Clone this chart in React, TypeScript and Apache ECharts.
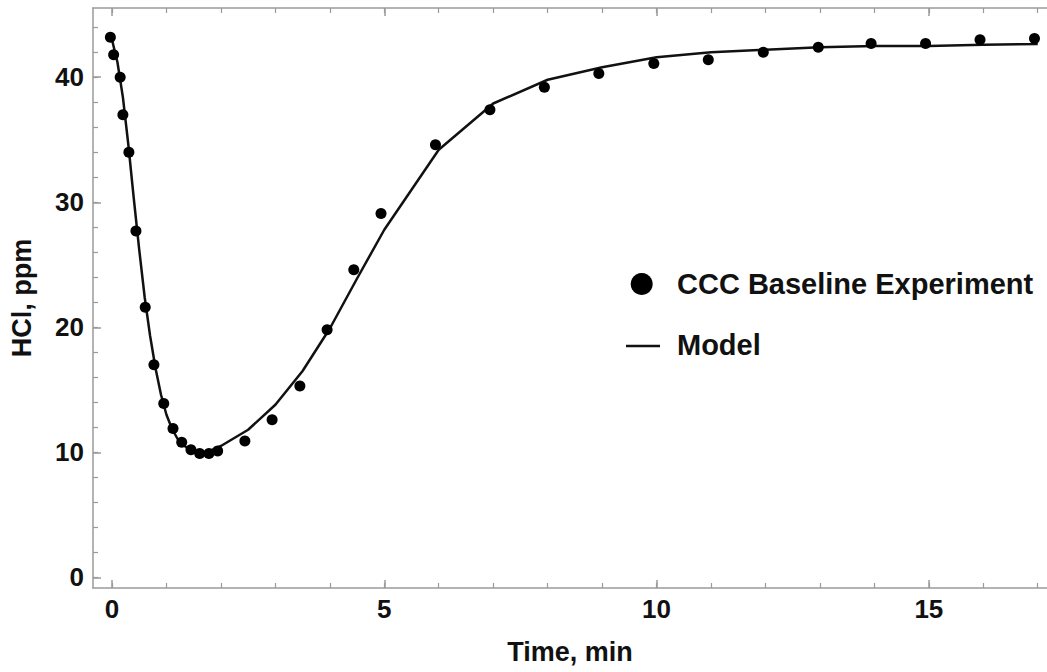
import React, { useEffect, useRef } from "react";
import * as echarts from "echarts";

// Experimental data (time in min, HCl in ppm)
const expTime = [-0.03, 0.03, 0.15, 0.2, 0.31, 0.44, 0.61, 0.77, 0.95, 1.12, 1.28, 1.45, 1.61, 1.78, 1.94, 2.44, 2.94, 3.45, 3.95, 4.44, 4.94, 5.94, 6.94, 7.94, 8.94, 9.95, 10.95, 11.96, 12.97, 13.94, 14.94, 15.94, 16.94];
const expHCl = [43.2, 41.8, 40.0, 37.0, 34.0, 27.7, 21.6, 17.0, 13.9, 11.9, 10.8, 10.2, 9.9, 9.9, 10.1, 10.9, 12.6, 15.3, 19.8, 24.6, 29.1, 34.6, 37.4, 39.2, 40.3, 41.1, 41.4, 42.0, 42.4, 42.7, 42.7, 43.0, 43.1];

// Model curve
const modelTime = [0, 0.1, 0.2, 0.3, 0.4, 0.5, 0.6, 0.7, 0.8, 0.9, 1.0, 1.1, 1.2, 1.3, 1.4, 1.5, 1.6, 1.7, 1.8, 2.0, 2.5, 3, 3.5, 4, 4.5, 5, 6, 7, 8, 9, 10, 11, 12, 13, 14, 15, 16, 17];
const modelHCl = [43.0, 41.2, 38.4, 34.6, 30.3, 26.2, 22.4, 19.3, 16.7, 14.6, 13.0, 11.9, 11.1, 10.6, 10.3, 10.1, 10.0, 10.0, 10.1, 10.5, 11.8, 13.8, 16.5, 19.9, 23.9, 27.8, 34.2, 37.9, 39.8, 40.8, 41.6, 42.0, 42.2, 42.4, 42.5, 42.5, 42.6, 42.65];

// Ticks
const xMajorTicks = [0, 5, 10, 15];
const xMinorTicks = [0, 1, 2, 3, 4, 5, 6, 7, 8, 9, 10, 11, 12, 13, 14, 15, 16, 17];
const yMajorTicks = [0, 10, 20, 30, 40];
const yMinorTicks = [0, 2, 4, 6, 8, 10, 12, 14, 16, 18, 20, 22, 24, 26, 28, 30, 32, 34, 36, 38, 40, 42, 44];

const expName = "CCC Baseline Experiment";
const modelName = "Model";
const xTitle = "Time, min";
const yTitle = "HCl, ppm";

const X_MIN = -0.349;
const X_MAX = 17.17;
const Y_MIN = -0.86;
const Y_MAX = 45.54;

const FONT = '"Liberation Sans", Arial, sans-serif';
const FRAME = "#9a9a9a";

export default function App() {
  const ref = useRef<HTMLDivElement>(null);

  useEffect(() => {
    document.body.style.margin = "0";
    if (!ref.current) return;
    const chart = echarts.init(ref.current, null, { renderer: "svg" });

    const baseX = (extra: any) => ({
      type: "value",
      min: X_MIN,
      max: X_MAX,
      splitLine: { show: false },
      ...extra,
    });
    const baseY = (extra: any) => ({
      type: "value",
      min: Y_MIN,
      max: Y_MAX,
      splitLine: { show: false },
      ...extra,
    });

    const labelStyle = {
      fontFamily: FONT,
      fontWeight: "bold",
      fontSize: 26,
      color: "#111",
    };

    chart.setOption({
      animation: false,
      backgroundColor: "#ffffff",
      grid: { left: 92, right: 0, top: 8, bottom: 84, containLabel: false },
      xAxis: [
        baseX({
          position: "bottom",
          axisLine: { show: true, onZero: false, lineStyle: { color: FRAME, width: 1.5 } },
          axisTick: { show: true, inside: true, length: 8, customValues: xMajorTicks, lineStyle: { color: FRAME, width: 1.5 } },
          axisLabel: { show: true, customValues: xMajorTicks, margin: 8, ...labelStyle },
          name: xTitle,
          nameLocation: "middle",
          nameGap: 50,
          nameTextStyle: { fontFamily: FONT, fontWeight: "bold", fontSize: 27, color: "#111" },
        }),
        baseX({
          position: "bottom",
          axisLine: { show: false, onZero: false },
          axisTick: { show: true, inside: true, length: 5, customValues: xMinorTicks, lineStyle: { color: FRAME, width: 1.2 } },
          axisLabel: { show: false },
        }),
        baseX({
          position: "top",
          axisLine: { show: true, onZero: false, lineStyle: { color: FRAME, width: 1.5 } },
          axisTick: { show: true, inside: true, length: 8, customValues: xMajorTicks, lineStyle: { color: FRAME, width: 1.5 } },
          axisLabel: { show: false },
        }),
        baseX({
          position: "top",
          axisLine: { show: false, onZero: false },
          axisTick: { show: true, inside: true, length: 5, customValues: xMinorTicks, lineStyle: { color: FRAME, width: 1.2 } },
          axisLabel: { show: false },
        }),
      ],
      yAxis: [
        baseY({
          position: "left",
          axisLine: { show: true, onZero: false, lineStyle: { color: FRAME, width: 1.5 } },
          axisTick: { show: true, inside: true, length: 8, customValues: yMajorTicks, lineStyle: { color: FRAME, width: 1.5 } },
          axisLabel: { show: true, customValues: yMajorTicks, margin: 9, ...labelStyle },
          name: yTitle,
          nameLocation: "middle",
          nameGap: 58,
          nameRotate: 90,
          nameTextStyle: { fontFamily: FONT, fontWeight: "bold", fontSize: 27, color: "#111" },
        }),
        baseY({
          position: "left",
          axisLine: { show: false, onZero: false },
          axisTick: { show: true, inside: true, length: 5, customValues: yMinorTicks, lineStyle: { color: FRAME, width: 1.2 } },
          axisLabel: { show: false },
        }),
      ],
      series: [
        {
          name: modelName,
          type: "line",
          xAxisIndex: 0,
          yAxisIndex: 0,
          data: modelTime.map((t, i) => [t, modelHCl[i]]),
          symbol: "none",
          smooth: false,
          lineStyle: { color: "#111", width: 2.5 },
          z: 2,
        },
        {
          name: expName,
          type: "scatter",
          xAxisIndex: 0,
          yAxisIndex: 0,
          data: expTime.map((t, i) => [t, expHCl[i]]),
          symbol: "circle",
          symbolSize: 11,
          itemStyle: { color: "#000", opacity: 1 },
          z: 3,
        },
      ],
      graphic: [
        { type: "circle", shape: { cx: 641.7, cy: 284, r: 11 }, style: { fill: "#000" } },
        {
          type: "text",
          x: 677,
          y: 284,
          style: { text: expName, fontFamily: FONT, fontWeight: "bold", fontSize: 29, fill: "#111", align: "left", verticalAlign: "middle" },
        },
        { type: "line", shape: { x1: 626, y1: 346, x2: 660, y2: 346 }, style: { stroke: "#111", lineWidth: 2.5 } },
        {
          type: "text",
          x: 677,
          y: 345,
          style: { text: modelName, fontFamily: FONT, fontWeight: "bold", fontSize: 29, fill: "#111", align: "left", verticalAlign: "middle" },
        },
      ],
    });

    return () => chart.dispose();
  }, []);

  return <div ref={ref} style={{ width: 1047, height: 672 }} />;
}
